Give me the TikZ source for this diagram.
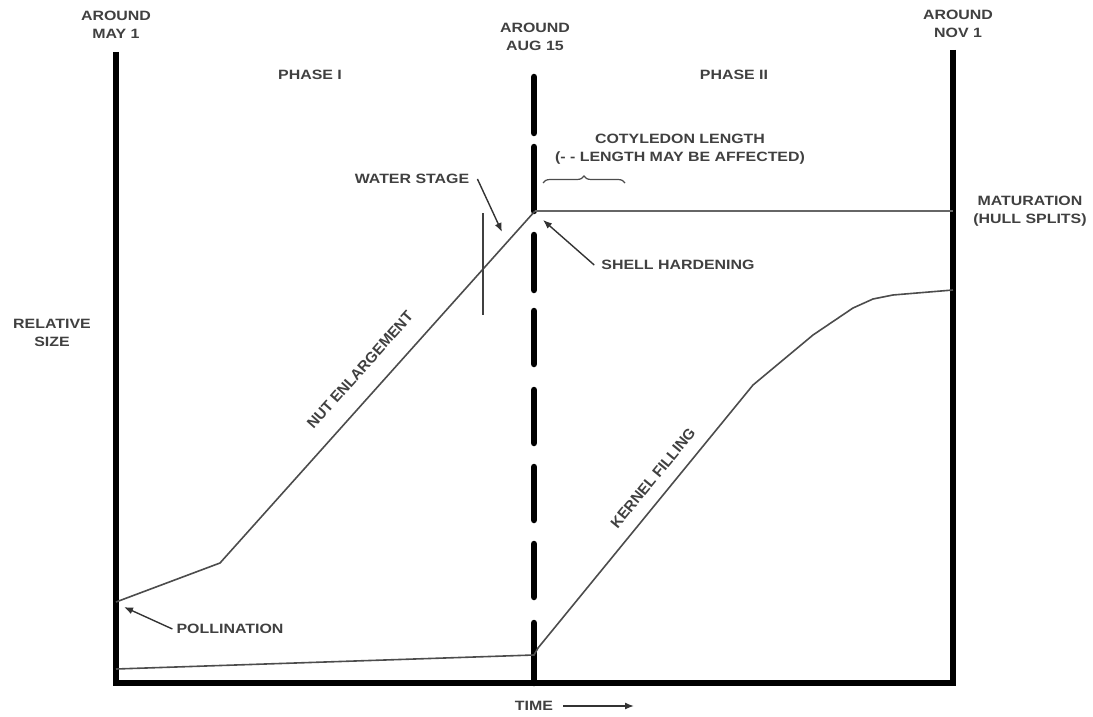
\documentclass[tikz,border=0pt]{standalone}
\usepackage{fontspec}
\setmainfont{Liberation Sans}
\newfontfamily\lblfont[FakeStretch=1.18]{Liberation Sans Bold}
\newfontfamily\slantfont{Liberation Sans Bold}
\usetikzlibrary{arrows.meta, decorations.pathreplacing}

\begin{document}
\begin{tikzpicture}[x=1pt, y=-1pt,
    lbl/.style={font=\lblfont\fontsize{13.5}{18}\selectfont, text=black!75, align=center, inner sep=0pt},
    rlbl/.style={font=\slantfont\fontsize{15}{18}\selectfont, text=black!75, inner sep=0pt},
    axisline/.style={line width=6pt, black},
    stageline/.style={line width=6.5pt, black, line cap=round},
    growth/.style={line width=1.6pt, black!70},
    pointer/.style={line width=1.4pt, black!80, -{Latex[length=9pt,width=7pt]}}]

        % page frame
        \useasboundingbox (0,0) rectangle (1093,717);

        % the time axis and the two outer dates
        \draw[axisline] (116,52) -- (116,683) -- (953,683);
        \draw[axisline] (953,50) -- (953,686);

        % the date in the middle: a dashed post
        \foreach \a/\b in {77/133, 147/211, 235/290, 311/364, 390/443, 467/520, 544/597, 623/683}
                \draw[stageline] (534,\a) -- (534,\b);

        % points of the curves
        \coordinate (pol) at (116,602);
        \coordinate (bend) at (220,563);
        \coordinate (top) at (535,211);
        \coordinate (mat) at (953,211);
        \coordinate (low) at (116,669);
        \coordinate (aug) at (534,655);
        \coordinate (fill) at (538,648);

        % nut enlargement and cotyledon length
        \draw[growth] (pol) -- (bend) -- (top);
        \draw[growth, line width=2.6pt, black!60] (top) -- (mat);
        \draw[black!75, line width=1.2pt] (483,213) -- (483,315);

        % kernel filling
        \draw[growth] (low) -- (aug) -- (fill) -- (753,385) -- (813,335) -- (853,308) -- (873,299) -- (893,295) -- (953,290);

        % brace under the cotyledon text
        \draw[black!70, line width=1.2pt, decorate, decoration={brace, amplitude=7pt}] (543,183) -- (625,183);

        % labels
        \node[lbl] (may) at (116,25) {AROUND\\MAY 1};
        \node[lbl] (aug15) at (535,37) {AROUND\\AUG 15};
        \node[lbl] (nov) at (958,24) {AROUND\\NOV 1};
        \node[lbl] (ph1) at (310,75) {PHASE I};
        \node[lbl] (ph2) at (734,75) {PHASE II};
        \node[lbl] (coty) at (680,149) {COTYLEDON LENGTH\\(- - LENGTH MAY BE AFFECTED)};
        \node[lbl] (water) at (412,179) {WATER STAGE};
        \node[lbl] (shell) at (678,265) {SHELL HARDENING};
        \node[lbl] (size) at (52,333) {RELATIVE\\SIZE};
        \node[lbl] (matur) at (1030,211) {MATURATION\\(HULL SPLITS)};
        \node[lbl] (poll) at (230,629) {POLLINATION};
        \node[lbl] (time) at (534,706) {TIME};
        \node[rlbl, rotate=48.3] (nut) at (360,370) {NUT ENLARGEMENT};
        \node[rlbl, rotate=50.6] (kern) at (653,478) {KERNEL FILLING};

        % pointers
        \coordinate (wtip) at (502,232);
        \coordinate (stip) at (543,220);
        \coordinate (ptip) at (124,607);
        \coordinate (tend) at (634,706);
        \draw[pointer] ([xshift=8pt]water.east) -- (wtip);
        \draw[pointer] ([xshift=-7pt]shell.west) -- (stip);
        \draw[pointer] ([xshift=-4pt]poll.west) -- (ptip);
        \draw[pointer] ([xshift=10pt]time.east) -- (tend);

\end{tikzpicture}
\end{document}
